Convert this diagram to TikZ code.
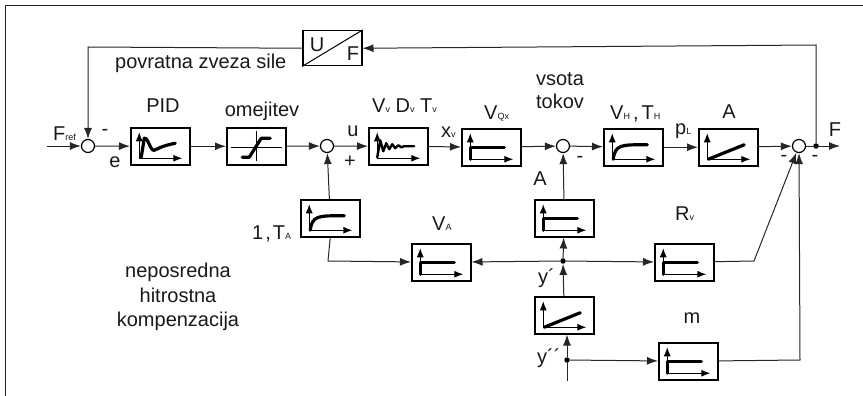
\documentclass[tikz,border=0pt]{standalone}
\usepackage{fontspec}
\setmainfont{Liberation Sans}
\usetikzlibrary{arrows.meta}
\newcommand{\sbs}[2]{#1{\fontsize{9}{9}\selectfont #2}}
\tikzset{
  x=1pt,y=-1pt,
  lin/.style={line width=1pt,black!85},
  arr/.style={lin,-{Latex[length=11pt,width=8pt]}},
  blk/.style={draw,line width=1.5pt,minimum width=59pt,minimum height=37pt,inner sep=0pt,anchor=north west},
  sumc/.style={draw,circle,line width=1.2pt,minimum size=13pt,inner sep=0pt,fill=white},
  jdot/.style={circle,fill=black,minimum size=5.5pt,inner sep=0pt},
  lab/.style={font=\fontsize{20}{21}\selectfont,inner sep=0pt,text=black!90},
  axis/.style={line width=1pt,-{Latex[length=9pt,width=7pt]}},
  curve/.style={line width=3.2pt,line cap=round,line join=round},
  pics/axes/.style={code={
    \draw[axis] (-21,12)--(-21,-14);
    \draw[axis] (-21,12)--(22,12);
  }},
  pics/flat/.style={code={
    \pic{axes};
    \draw[curve] (-21,12)--(-21,0)--(13,0);
  }},
  pics/lag/.style={code={
    \pic{axes};
    \draw[curve] (-20,12) .. controls (-18,-3) and (-12,-2.5) .. (14,-2.5);
  }},
  pics/ramp/.style={code={
    \pic{axes};
    \draw[curve] (-20,12)--(16,-2.5);
  }},
  pics/pidc/.style={code={
    \pic{axes};
    \draw[curve] (-19,11) -- (-16,-8) .. controls (-12,-9) and (-10,5) .. (-6,4) .. controls (-3,3) and (0,0) .. (15,-3);
  }},
  pics/osc/.style={code={
    \pic{axes};
    \draw[line width=2.4pt,line cap=round,line join=round] (-21,11) -- (-18,-6) -- (-15,5) -- (-12,-3) -- (-9,3) -- (-6,-2) -- (-3,2) -- (0,-1) -- (3,1) -- (6,0)-- (16,0);
  }},
}
\begin{document}
\begin{tikzpicture}
\useasboundingbox (0,0) rectangle (863,396);
% frame
\draw[line width=1pt,black!85] (5,396)--(5,6)--(863,6);
% blocks
\node[blk] (pid) at (130,127) {};
\node[blk] (ome) at (226,127) {};
\node[blk] (vv)  at (368,127) {};
\node[blk] (vq)  at (461,128) {};
\node[blk] (vh)  at (603,128) {};
\node[blk] (aa)  at (698,128) {};
\node[blk,minimum height=35pt] (uf) at (302,30) {};
\node[blk] (ta)  at (300,199) {};
\node[blk] (va)  at (411,243) {};
\node[blk] (al)  at (534,199) {};
\node[blk] (ra)  at (534,296) {};
\node[blk] (rv)  at (654,243) {};
\node[blk] (mm)  at (658,342) {};
% sums
\node[sumc] (s1) at (88,146) {};
\node[sumc] (s2) at (327,146) {};
\node[sumc] (s3) at (563,146) {};
\node[sumc] (s4) at (799,146) {};
\node[jdot] (j1) at (816,146) {};
\node[jdot] (j2) at (563,261) {};
\node[jdot] (j3) at (567,360) {};
\coordinate (fin) at (47,146);
\coordinate (fout) at (840,146);
\coordinate (yin) at (567,381);
\coordinate (k1) at (88,47);
\coordinate (k2) at (816,45);
\coordinate (k3) at (328,261);
\coordinate (k4) at (754,261);
\coordinate (k5) at (800,360);
% icons
\foreach \n/\k in {pid/pidc,vv/osc,vq/flat,vh/lag,aa/ramp,ta/lag,va/flat,al/flat,ra/ramp,rv/flat,mm/flat}
  \pic at (\n.center) {\k};
% limiter icon
\draw[line width=1pt] ([xshift=-25pt,yshift=-1pt]ome.center)--([xshift=26pt,yshift=-1pt]ome.center);
\draw[line width=1pt] ([yshift=-15pt]ome.center)--([yshift=15pt]ome.center);
\draw[curve,shift={(ome.center)}] (-14,11)--(-7,11)--(5,-8)--(14,-8);
% uf diagonal
\draw[line width=1pt] (uf.south west)--(uf.north east);
\node[lab,anchor=base] (tu) at (317,52) {U};
\node[lab,anchor=base] (tf) at (353,61) {F};
% connectors
\draw[arr] (fin)--(s1);
\draw[arr] (s1)--(pid);
\draw[arr] (pid)--(ome);
\draw[arr] (ome)--(s2);
\draw[arr] (s2)--(vv);
\draw[arr] (vv)--(vq);
\draw[arr] (vq)--(s3);
\draw[arr] (s3)--(vh);
\draw[arr] (vh)--(aa);
\draw[arr] (aa)--(s4);
\draw[arr] (s4)--(fout);
\draw[arr] (ta)--(s2);
\draw[arr] (al)--(s3);
\draw[arr] (j2)--(al);
\draw[arr] (ra)--(j2);
\draw[arr] (j3)--(ra.south -| j3);
\draw[lin] (yin)--(j3);
\draw[arr] (j3)--(mm);
\draw[arr] (j2)--(va);
\draw[arr] (j2)--(rv);
\draw[arr] (ta.south)--(k3)--(va);
\draw[arr] (rv)--(k4)--(s4);
\draw[arr] (mm)--(k5)--(s4);
\draw[arr] (j1)--(k2)--(uf.east);
\draw[arr] (uf.west)--(k1)--(s1);
% labels
\node[lab,anchor=base west] (t1) at (115,69) {povratna zveza sile};
\node[lab,anchor=base] (t2) at (163,113) {PID};
\node[lab,anchor=base] (t3) at (262,117) {omejitev};
\node[lab,anchor=base west] (t4) at (372,113) {\sbs{V}{v} \sbs{D}{v} \sbs{T}{v}};
\node[lab,anchor=base west] (t5) at (484,119) {\sbs{V}{Qx}};
\node[lab,anchor=base] (t6) at (560,86) {vsota};
\node[lab,anchor=base] (t7) at (560,109) {tokov};
\node[lab,anchor=base west] (t8) at (610,119) {\sbs{V}{H}\hspace{3pt},\hspace{3pt}\sbs{T}{H}};
\node[lab,anchor=base west] (t9) at (675,135) {\sbs{p}{L}};
\node[lab,anchor=base] (t10) at (729,118) {A};
\node[lab,anchor=base] (t11) at (835,136) {F};
\node[lab,anchor=base west] (t12) at (53,140) {\sbs{F}{ref}};
\node[lab] (t13) at (105,132) {-};
\node[lab,anchor=base] (t14) at (115,167) {e};
\node[lab,anchor=base] (t15) at (353,136) {u};
\node[lab] (t16) at (350,162) {+};
\node[lab,anchor=base west] (t17) at (441,137) {\sbs{x}{v}};
\node[lab] (t18) at (580,159) {-};
\node[lab,anchor=base] (t19) at (540,185) {A};
\node[lab] (t20) at (784,158) {-};
\node[lab] (t21) at (815,158) {-};
\node[lab,anchor=base west] (t22) at (252,239) {1\hspace{2pt},\hspace{2pt}\sbs{T}{A}};
\node[lab,anchor=base west] (t23) at (432,230) {\sbs{V}{A}};
\node[lab,anchor=base west] (t24) at (675,220) {\sbs{R}{v}};
\node[lab,anchor=base] (t25) at (692,323) {m};
\node[lab,anchor=base west] (t26) at (538,283) {y´};
\node[lab,anchor=base west] (t27) at (537,363) {y´´};
\node[lab,anchor=base] (t28) at (178,277) {neposredna};
\node[lab,anchor=base] (t29) at (178,302) {hitrostna};
\node[lab,anchor=base] (t30) at (178,326) {kompenzacija};
\end{tikzpicture}
\end{document}
